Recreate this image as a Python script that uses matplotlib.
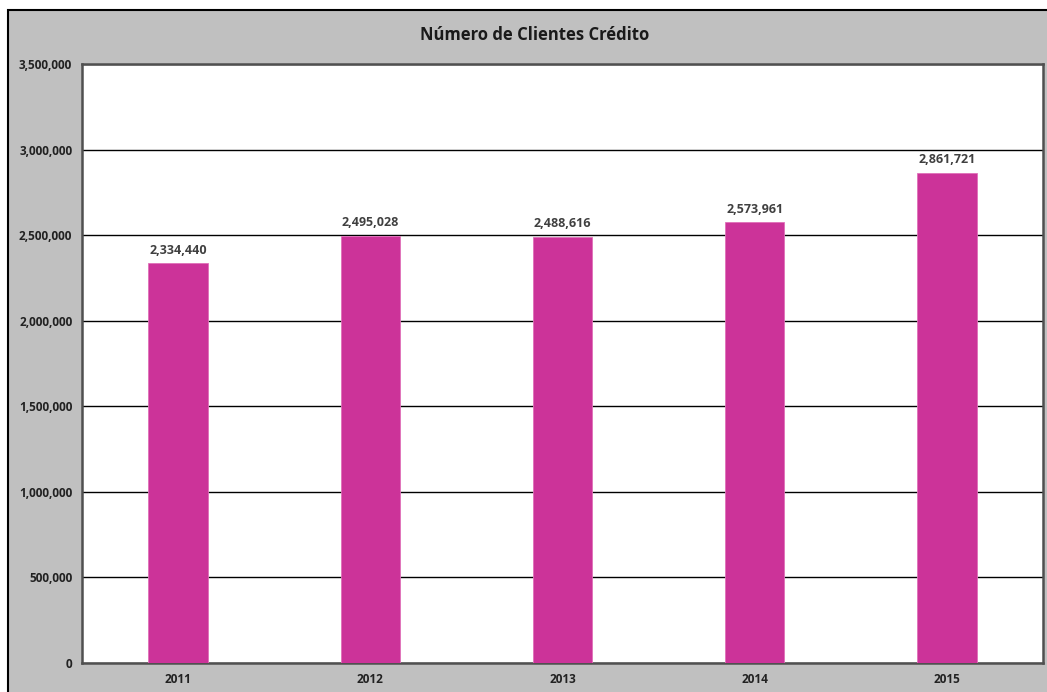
import matplotlib.pyplot as plt
from matplotlib.patches import Rectangle
from matplotlib.ticker import FuncFormatter

# Número de clientes de crédito por año
years = ['2011', '2012', '2013', '2014', '2015']
clients = [2334440, 2495028, 2488616, 2573961, 2861721]
y_ticks = [0, 500000, 1000000, 1500000, 2000000, 2500000, 3000000, 3500000]

plt.rcParams['font.family'] = ['Open Sans', 'DejaVu Sans']

W, H = 1047, 692
fig = plt.figure(figsize=(W / 100, H / 100), dpi=100)
fig.patch.set_facecolor('white')

# gray chart frame, runs off the right and bottom edges
frame = Rectangle((8 / W, -0.1), 1.2, 1 - 10 / H + 0.1, transform=fig.transFigure,
                  facecolor='#c0c0c0', edgecolor='black', linewidth=1.5, zorder=0)
fig.patches.append(frame)

ax = fig.add_axes([82 / W, 1 - 663 / H, (1043 - 82) / W, (663 - 64) / H])
ax.set_zorder(2)
ax.set_facecolor('white')

x = range(len(years))
ax.bar(x, clients, width=0.31, color='#cc3399', edgecolor='#e070b8', linewidth=0.6, zorder=3)

for xi, v in zip(x, clients):
    ax.text(xi, v + 40000, f'{v:,}', ha='center', va='bottom', fontsize=9,
            fontweight='bold', color='#404040')

ax.set_xlim(-0.5, len(years) - 0.5)
ax.set_ylim(0, 3500000)
ax.set_yticks(y_ticks)
ax.yaxis.set_major_formatter(FuncFormatter(lambda v, p: f'{int(v):,}'))
ax.set_xticks(list(x))
ax.set_xticklabels(years)
ax.grid(axis='y', color='black', linewidth=1.0, zorder=1)
ax.set_axisbelow(True)
ax.tick_params(axis='both', length=0, labelsize=8.5, colors='#222222', pad=7)
for lbl in ax.get_xticklabels() + ax.get_yticklabels():
    lbl.set_fontweight('bold')
for s in ax.spines.values():
    s.set_color('#505050')
    s.set_linewidth(1.8)

fig.text(535 / W, 1 - 35 / H, 'Número de Clientes Crédito', ha='center',
         va='center', fontsize=12, fontweight='bold', color='#1a1a1a', zorder=3)

fig.savefig('out.png', dpi=100)
